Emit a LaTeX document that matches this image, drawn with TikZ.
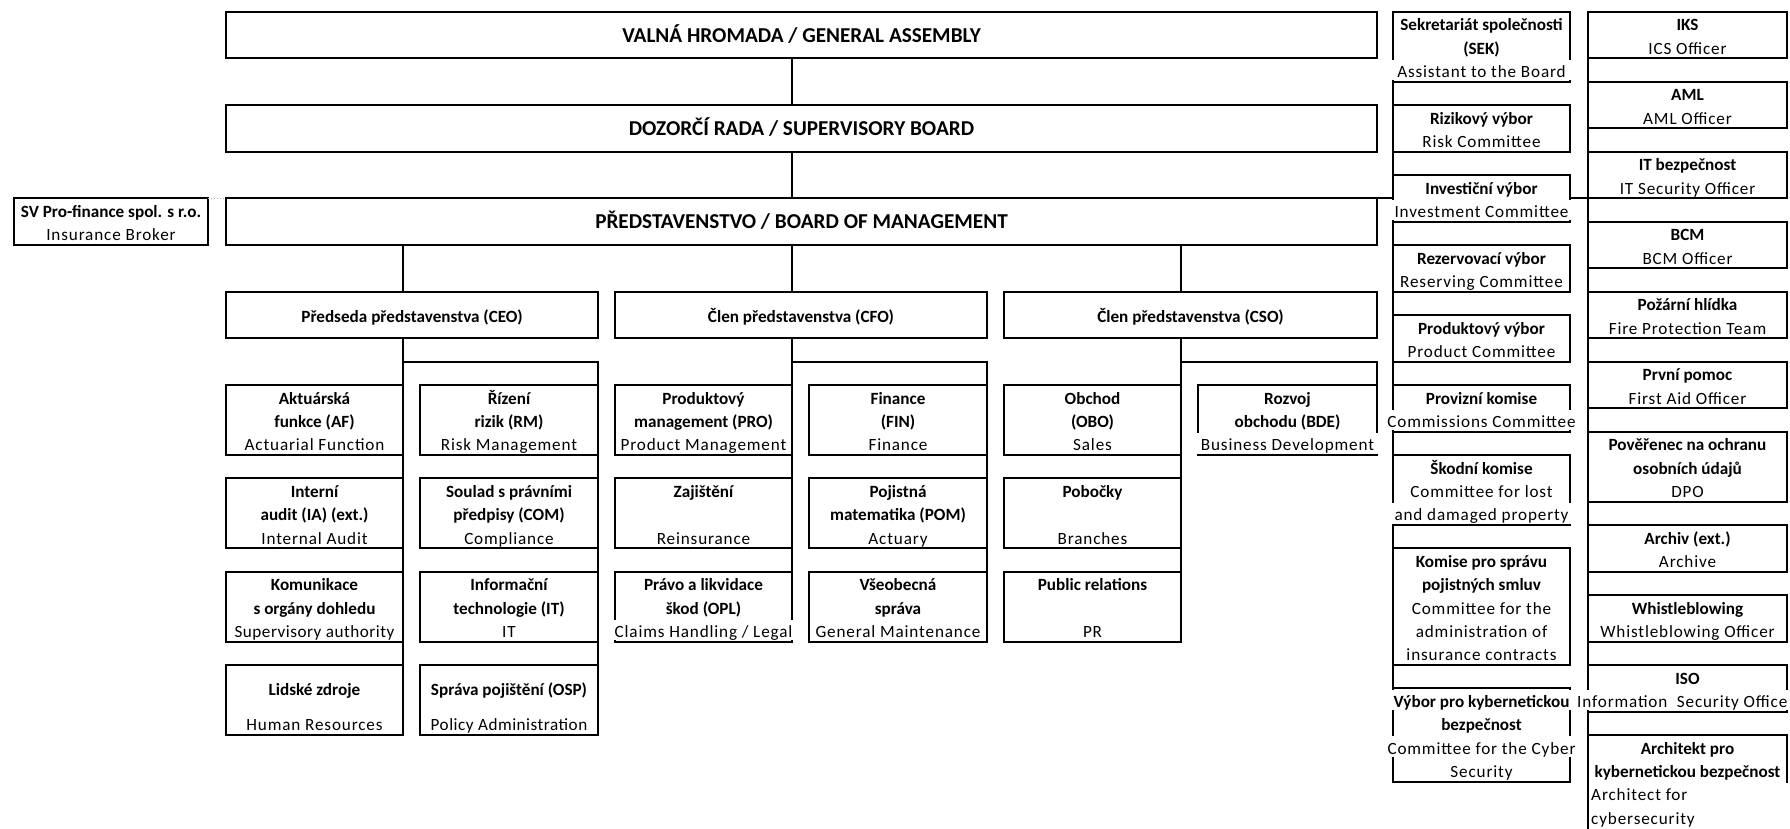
\documentclass[tikz,border=0pt]{standalone}
\usepackage{fontspec}
\setmainfont{Carlito}
\newfontfamily\eng[LetterSpace=5]{Carlito}
\newfontfamily\engn[LetterSpace=3]{Carlito}
\newcommand\yy[1]{11.667+23.333*(#1)}
\newcommand\bx[5]{\node[box,minimum width={(#3-#2)*1pt},minimum height={23.333*(#5-#4)*1pt}] (#1) at ({(#2+#3)/2},{11.667+23.333*(#4+#5)/2}) {};}
\newcommand\lb[5]{\node[#4] (#1) at ({#2},{11.667+23.333*(#3+0.5)}) {#5};}
\newcommand\msk[3]{\fill[white] ({#1-3},{11.667+23.333*(#3)+1.3}) rectangle ({#2+3},{11.667+23.333*(#3+1)-1.3});}
\tikzset{
  box/.style={draw,line width=2.2pt,inner sep=0pt,outer sep=0pt},
  ln/.style={line width=2.2pt,line cap=rect},
  tb/.style={anchor=base,inner sep=0pt,yshift=-7.6pt,font=\fontsize{17.15pt}{20pt}\selectfont\bfseries},
  te/.style={anchor=base,inner sep=0pt,yshift=-7.6pt,font=\fontsize{17.15pt}{20pt}\eng},
  tn/.style={te,font=\fontsize{17.15pt}{20pt}\engn},
  tw/.style={te,anchor=base west},
  tbig/.style={anchor=base,inner sep=0pt,yshift=-7.3pt,font=\fontsize{21.2pt}{25pt}\selectfont\bfseries},
}
\begin{document}
\begin{tikzpicture}[x=1pt,y=-1pt]
\useasboundingbox[fill=white] (0,0) rectangle (1790,828);
% ---- boxes
\bx{vh}{226}{1377}{0}{2}
\bx{dr}{226}{1377}{4}{6}
\bx{pr}{226}{1377}{8}{10}
\bx{sv}{14}{208}{8}{10}
\bx{ceo}{226}{598}{12}{14}
\bx{cfo}{615}{987}{12}{14}
\bx{cso}{1004}{1377}{12}{14}
\bx{af}{226}{403}{16}{19}
\bx{ia}{226}{403}{20}{23}
\bx{kom}{226}{403}{24}{27}
\bx{lz}{226}{403}{28}{31}
\bx{rm}{420}{598}{16}{19}
\bx{com}{420}{598}{20}{23}
\bx{it}{420}{598}{24}{27}
\bx{osp}{420}{598}{28}{31}
\bx{pro}{615}{792}{16}{19}
\bx{zaj}{615}{792}{20}{23}
\bx{opl}{615}{792}{24}{27}
\bx{fin}{809}{987}{16}{19}
\bx{pom}{809}{987}{20}{23}
\bx{vs}{809}{987}{24}{27}
\bx{obo}{1004}{1181}{16}{19}
\bx{pob}{1004}{1181}{20}{23}
\bx{prl}{1004}{1181}{24}{27}
\bx{bde}{1198}{1377}{16}{19}
\bx{sek}{1393}{1570}{0}{3}
\bx{riz}{1393}{1570}{4}{6}
\bx{inv}{1393}{1570}{7}{9}
\bx{rez}{1393}{1570}{10}{12}
\bx{prod}{1393}{1570}{13}{15}
\bx{prov}{1393}{1570}{16}{18}
\bx{skod}{1393}{1570}{19}{22}
\bx{ksp}{1393}{1570}{23}{28}
\bx{kyb}{1393}{1570}{29}{33}
\bx{iks}{1588}{1787}{0}{2}
\bx{aml}{1588}{1787}{3}{5}
\bx{itb}{1588}{1787}{6}{8}
\bx{bcm}{1588}{1787}{9}{11}
\bx{poz}{1588}{1787}{12}{14}
\bx{prv}{1588}{1787}{15}{17}
\bx{dpo}{1588}{1787}{18}{21}
\bx{arch}{1588}{1787}{22}{24}
\bx{wb}{1588}{1787}{25}{27}
\bx{iso}{1588}{1787}{28}{30}
\coordinate (arcTL) at (1588,{\yy{31}});
\coordinate (arcTR) at (1787,{\yy{31}});
\coordinate (arcR) at (1787,{\yy{33}});
\coordinate (oend) at (1588,828);
\coordinate (ceoj) at ([yshift=23.333pt]rm.north east);
\coordinate (cfoj) at ([yshift=23.333pt]fin.north east);
\coordinate (csoj) at ([yshift=23.333pt]bde.north east);
% ---- connectors
\draw[ln] (arcTL) -- (arcTR) -- (arcR);
\draw[ln] (vh.south -| pro.east) -- (dr.north -| pro.east);
\draw[ln] (dr.south -| pro.east) -- (pr.north -| pro.east);
\draw[ln] (pr.south -| af.east) -- (ceo.north -| af.east);
\draw[ln] (pr.south -| pro.east) -- (cfo.north -| pro.east);
\draw[ln] (pr.south -| obo.east) -- (cso.north -| obo.east);
\draw[ln] (ceo.south -| af.east) -- (lz.south east);
\draw[ln] (ceoj -| af.east) -- (ceoj) -- (osp.south east);
\draw[ln] (cfo.south -| pro.east) -- (opl.south east);
\draw[ln] (cfoj -| pro.east) -- (cfoj) -- (vs.south east);
\draw[ln] (cso.south -| obo.east) -- (prl.south east);
\draw[ln] (csoj -| obo.east) -- (csoj) -- (bde.north east);
\draw[ln] (sek.north west) -- (kyb.south west);
\draw[ln] (iks.north west) -- (oend);
\draw[ln] (pr.north east) -- (pr.north -| sek.west);
\draw[ln] (pr.north -| sek.east) -- (pr.north -| iks.west);
\draw[gray!60,dotted,line width=1pt] (sv.north east) -- (pr.north west);
% ---- overflow masks
\msk{615}{792}{26}
\msk{1198}{1377}{18}
\msk{1393}{1570}{2}
\msk{1393}{1570}{8}
\msk{1393}{1570}{17}
\msk{1393}{1570}{21}
\msk{1393}{1570}{29}
\msk{1393}{1570}{31}
\msk{1588}{1787}{29}
% ---- texts
\lb{vh1}{801.5}{0.5}{tbig}{VALNÁ HROMADA / GENERAL ASSEMBLY}
\lb{dr1}{801.5}{4.5}{tbig}{DOZORČÍ RADA / SUPERVISORY BOARD}
\lb{pr1}{801.5}{8.5}{tbig}{PŘEDSTAVENSTVO / BOARD OF MANAGEMENT}
\lb{sv1}{111}{8}{tb}{SV Pro-finance spol. s r.o.}
\lb{sv2}{111}{9}{te}{Insurance Broker}
\lb{ceo1}{412}{12.5}{tb}{Předseda představenstva (CEO)}
\lb{cfo1}{801}{12.5}{tb}{Člen představenstva (CFO)}
\lb{cso1}{1190.5}{12.5}{tb}{Člen představenstva (CSO)}
% C1
\lb{af1}{314.5}{16}{tb}{Aktuárská}
\lb{af2}{314.5}{17}{tb}{funkce (AF)}
\lb{af3}{314.5}{18}{te}{Actuarial Function}
\lb{ia1}{314.5}{20}{tb}{Interní}
\lb{ia2}{314.5}{21}{tb}{audit (IA) (ext.)}
\lb{ia3}{314.5}{22}{te}{Internal Audit}
\lb{kom1}{314.5}{24}{tb}{Komunikace}
\lb{kom2}{314.5}{25}{tb}{s orgány dohledu}
\lb{kom3}{314.5}{26}{tn}{Supervisory authority}
\lb{lz1}{314.5}{28.5}{tb}{Lidské zdroje}
\lb{lz2}{314.5}{30}{te}{Human Resources}
% C2
\lb{rm1}{509}{16}{tb}{Řízení}
\lb{rm2}{509}{17}{tb}{rizik (RM)}
\lb{rm3}{509}{18}{te}{Risk Management}
\lb{com1}{509}{20}{tb}{Soulad s právními}
\lb{com2}{509}{21}{tb}{předpisy (COM)}
\lb{com3}{509}{22}{te}{Compliance}
\lb{it1}{509}{24}{tb}{Informační}
\lb{it2}{509}{25}{tb}{technologie (IT)}
\lb{it3}{509}{26}{te}{IT}
\lb{osp1}{509}{28.5}{tb}{Správa pojištění (OSP)}
\lb{osp2}{509}{30}{tn}{Policy Administration}
% C3
\lb{pro1}{703.5}{16}{tb}{Produktový}
\lb{pro2}{703.5}{17}{tb}{management (PRO)}
\lb{pro3}{703.5}{18}{te}{Product Management}
\lb{zaj1}{703.5}{20}{tb}{Zajištění}
\lb{zaj2}{703.5}{22}{te}{Reinsurance}
\lb{opl1}{703.5}{24}{tb}{Právo a likvidace}
\lb{opl2}{703.5}{25}{tb}{škod (OPL)}
\lb{opl3}{703.5}{26}{te}{Claims Handling / Legal}
% C4
\lb{fin1}{898}{16}{tb}{Finance}
\lb{fin2}{898}{17}{tb}{(FIN)}
\lb{fin3}{898}{18}{te}{Finance}
\lb{pom1}{898}{20}{tb}{Pojistná}
\lb{pom2}{898}{21}{tb}{matematika (POM)}
\lb{pom3}{898}{22}{te}{Actuary}
\lb{vs1}{898}{24}{tb}{Všeobecná}
\lb{vs2}{898}{25}{tb}{správa}
\lb{vs3}{898}{26}{te}{General Maintenance}
% C5
\lb{obo1}{1092.5}{16}{tb}{Obchod}
\lb{obo2}{1092.5}{17}{tb}{(OBO)}
\lb{obo3}{1092.5}{18}{te}{Sales}
\lb{pob1}{1092.5}{20}{tb}{Pobočky}
\lb{pob2}{1092.5}{22}{te}{Branches}
\lb{prl1}{1092.5}{24}{tb}{Public relations}
\lb{prl2}{1092.5}{26}{te}{PR}
% C6
\lb{bde1}{1287.5}{16}{tb}{Rozvoj}
\lb{bde2}{1287.5}{17}{tb}{obchodu (BDE)}
\lb{bde3}{1287.5}{18}{te}{Business Development}
% committees
\lb{sek1}{1481.5}{0}{tb}{Sekretariát společnosti}
\lb{sek2}{1481.5}{1}{tb}{(SEK)}
\lb{sek3}{1481.5}{2}{te}{Assistant to the Board}
\lb{riz1}{1481.5}{4}{tb}{Rizikový výbor}
\lb{riz2}{1481.5}{5}{te}{Risk Committee}
\lb{inv1}{1481.5}{7}{tb}{Investiční výbor}
\lb{inv2}{1481.5}{8}{te}{Investment Committee}
\lb{rez1}{1481.5}{10}{tb}{Rezervovací výbor}
\lb{rez2}{1481.5}{11}{te}{Reserving Committee}
\lb{prod1}{1481.5}{13}{tb}{Produktový výbor}
\lb{prod2}{1481.5}{14}{te}{Product Committee}
\lb{prov1}{1481.5}{16}{tb}{Provizní komise}
\lb{prov2}{1481.5}{17}{te}{Commissions Committee}
\lb{skod1}{1481.5}{19}{tb}{Škodní komise}
\lb{skod2}{1481.5}{20}{te}{Committee for lost}
\lb{skod3}{1481.5}{21}{te}{and damaged property}
\lb{ksp1}{1481.5}{23}{tb}{Komise pro správu}
\lb{ksp2}{1481.5}{24}{tb}{pojistných smluv}
\lb{ksp3}{1481.5}{25}{te}{Committee for the}
\lb{ksp4}{1481.5}{26}{te}{administration of}
\lb{ksp5}{1481.5}{27}{te}{insurance contracts}
\lb{kyb1}{1481.5}{29}{tb}{Výbor pro kybernetickou}
\lb{kyb2}{1481.5}{30}{tb}{bezpečnost}
\lb{kyb3}{1481.5}{31}{te}{Committee for the Cyber}
\lb{kyb4}{1481.5}{32}{te}{Security}
% officers
\lb{iks1}{1687.5}{0}{tb}{IKS}
\lb{iks2}{1687.5}{1}{te}{ICS Officer}
\lb{aml1}{1687.5}{3}{tb}{AML}
\lb{aml2}{1687.5}{4}{te}{AML Officer}
\lb{itb1}{1687.5}{6}{tb}{IT bezpečnost}
\lb{itb2}{1687.5}{7}{te}{IT Security Officer}
\lb{bcm1}{1687.5}{9}{tb}{BCM}
\lb{bcm2}{1687.5}{10}{te}{BCM Officer}
\lb{poz1}{1687.5}{12}{tb}{Požární hlídka}
\lb{poz2}{1687.5}{13}{te}{Fire Protection Team}
\lb{prv1}{1687.5}{15}{tb}{První pomoc}
\lb{prv2}{1687.5}{16}{te}{First Aid Officer}
\lb{dpo1}{1687.5}{18}{tb}{Pověřenec na ochranu}
\lb{dpo2}{1687.5}{19}{tb}{osobních údajů}
\lb{dpo3}{1687.5}{20}{te}{DPO}
\lb{arch1}{1687.5}{22}{tb}{Archiv (ext.)}
\lb{arch2}{1687.5}{23}{te}{Archive}
\lb{wb1}{1687.5}{25}{tb}{Whistleblowing}
\lb{wb2}{1687.5}{26}{te}{Whistleblowing Officer}
\lb{iso1}{1687.5}{28}{tb}{ISO}
\lb{iso2}{1577}{29}{tw}{Information~ Security Office}
\lb{arc1}{1687.5}{31}{tb}{Architekt pro}
\lb{arc2}{1687.5}{32}{tb}{kybernetickou bezpečnost}
\lb{arc3}{1591}{33}{tw}{Architect for}
\lb{arc4}{1591}{34}{tw}{cybersecurity}
\end{tikzpicture}
\end{document}
